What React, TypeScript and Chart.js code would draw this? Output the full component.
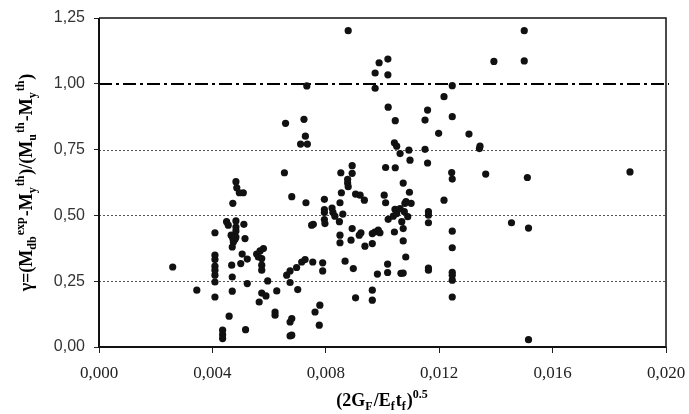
import React, { useEffect, useRef } from "react";
import { Chart, registerables } from "chart.js";

Chart.register(...registerables);

const xValues: number[] = [
  0.0026, 0.00345, 0.00409, 0.00409, 0.00409, 0.00409, 0.00409, 0.00409, 0.00409, 0.00409,
  0.00436, 0.00436, 0.00436, 0.0045, 0.00456, 0.00459, 0.00466, 0.00472, 0.0048, 0.00474,
  0.0047, 0.00472, 0.00468, 0.0047, 0.0047, 0.00483, 0.00486, 0.00495, 0.00509, 0.00483,
  0.00483, 0.00483, 0.00483, 0.00511, 0.00515, 0.005, 0.00505, 0.00523, 0.00523, 0.00517,
  0.00556, 0.00568, 0.0058, 0.00562, 0.00574, 0.00574, 0.00574, 0.00574, 0.00589, 0.00565,
  0.00595, 0.00621, 0.00621, 0.00627, 0.00654, 0.00658, 0.00662, 0.00674, 0.00674, 0.0068,
  0.0068, 0.00674, 0.00674, 0.0068, 0.00697, 0.00701, 0.00715, 0.00727, 0.0073, 0.00733,
  0.00723, 0.00728, 0.00711, 0.00735, 0.0075, 0.00756, 0.00754, 0.00762, 0.00779, 0.00777,
  0.00789, 0.00789, 0.00795, 0.00795, 0.00795, 0.00795, 0.00797, 0.00822, 0.00825, 0.00832,
  0.0085, 0.00855, 0.0086, 0.00848, 0.0085, 0.0085, 0.00853, 0.00893, 0.00893, 0.00877,
  0.00877, 0.00879, 0.00879, 0.00868, 0.00897, 0.00893, 0.00889, 0.00905, 0.00921, 0.00936,
  0.00924, 0.00918, 0.00938, 0.00905, 0.00964, 0.00973, 0.00985, 0.00991, 0.00964, 0.00964,
  0.00964, 0.00982, 0.00974, 0.00974, 0.00988, 0.01019, 0.01019, 0.0102, 0.01045, 0.01006,
  0.01011, 0.01011, 0.01045, 0.01018, 0.01018, 0.0102, 0.01038, 0.01044, 0.0105, 0.01062,
  0.01079, 0.01101, 0.01077, 0.01089, 0.01068, 0.01042, 0.01073, 0.01073, 0.01082, 0.01065,
  0.01073, 0.01042, 0.0105, 0.01062, 0.01093, 0.01097, 0.01073, 0.01095, 0.01083, 0.0115,
  0.01159, 0.0115, 0.01159, 0.01162, 0.01162, 0.01162, 0.01162, 0.01162, 0.01198, 0.01217,
  0.01217, 0.01246, 0.01246, 0.01244, 0.01246, 0.01246, 0.01246, 0.01246, 0.01246, 0.01246,
  0.01246, 0.01305, 0.01344, 0.01342, 0.01364, 0.01393, 0.01455, 0.015, 0.015, 0.01511,
  0.01515, 0.01515, 0.01873,
];

const yValues: number[] = [
  0.304, 0.216, 0.434, 0.349, 0.332, 0.307, 0.292, 0.273, 0.247, 0.19,
  0.064, 0.047, 0.032, 0.476, 0.463, 0.117, 0.425, 0.412, 0.409, 0.399,
  0.38, 0.546, 0.311, 0.266, 0.212, 0.628, 0.605, 0.586, 0.586, 0.479,
  0.456, 0.418, 0.441, 0.466, 0.412, 0.317, 0.353, 0.334, 0.241, 0.066,
  0.353, 0.365, 0.374, 0.342, 0.336, 0.311, 0.292, 0.205, 0.194, 0.171,
  0.251, 0.133, 0.121, 0.213, 0.662, 0.85, 0.273, 0.289, 0.245, 0.571,
  0.108, 0.095, 0.042, 0.045, 0.302, 0.218, 0.323, 0.332, 0.548, 0.992,
  0.865, 0.801, 0.771, 0.771, 0.463, 0.466, 0.323, 0.133, 0.159, 0.083,
  0.32, 0.289, 0.561, 0.522, 0.511, 0.484, 0.469, 0.528, 0.512, 0.497,
  0.548, 0.586, 0.505, 0.476, 0.425, 0.396, 0.662, 0.689, 0.66, 0.637,
  0.623, 0.609, 1.202, 0.326, 0.298, 0.45, 0.406, 0.581, 0.577, 0.558,
  0.434, 0.425, 0.383, 0.187, 0.431, 0.437, 0.444, 0.434, 0.393, 0.216,
  0.178, 0.277, 0.983, 1.041, 1.08, 1.094, 1.034, 0.911, 0.86, 0.577,
  0.548, 0.682, 0.681, 0.315, 0.283, 0.485, 0.497, 0.523, 0.507, 0.526,
  0.546, 0.546, 0.514, 0.495, 0.476, 0.437, 0.45, 0.403, 0.342, 0.28,
  0.281, 0.776, 0.763, 0.735, 0.748, 0.71, 0.623, 0.588, 0.552, 0.862,
  0.9, 0.751, 0.699, 0.514, 0.501, 0.472, 0.3, 0.292, 0.812, 0.951,
  0.558, 0.993, 0.875, 0.663, 0.638, 0.44, 0.377, 0.284, 0.273, 0.254,
  0.19, 0.809, 0.763, 0.754, 0.657, 1.085, 0.472, 1.202, 1.087, 0.644,
  0.452, 0.028, 0.665,
];

const xTickStep = 0.004;
const yTickStep = 0.25;
const dottedGridValues = [0.25, 0.5, 0.75];
const referenceValue = 1.0;

type Seg = { t: string; m: "n" | "sub" | "sup" };

const yTitle: Seg[] = [
  { t: "γ=(M", m: "n" }, { t: "db", m: "sub" }, { t: "exp", m: "sup" },
  { t: "-M", m: "n" }, { t: "y", m: "sub" }, { t: "th", m: "sup" },
  { t: ")/(M", m: "n" }, { t: "u", m: "sub" }, { t: "th", m: "sup" },
  { t: "-M", m: "n" }, { t: "y", m: "sub" }, { t: "th", m: "sup" },
  { t: ")", m: "n" },
];

const xTitle: Seg[] = [
  { t: "(2G", m: "n" }, { t: "F", m: "sub" }, { t: "/E", m: "n" }, { t: "f", m: "sub" },
  { t: "t", m: "n" }, { t: "f", m: "sub" }, { t: ")", m: "n" }, { t: "0.5", m: "sup" },
];

function drawRich(ctx: CanvasRenderingContext2D, segs: Seg[], cx: number, cy: number, rot: number, size: number) {
  const big = `bold ${size}px "Liberation Serif", "Times New Roman", serif`;
  const small = `bold ${Math.round(size * 0.65)}px "Liberation Serif", "Times New Roman", serif`;
  ctx.save();
  ctx.translate(cx, cy);
  ctx.rotate(rot);
  let total = 0;
  for (const s of segs) {
    ctx.font = s.m === "n" ? big : small;
    total += ctx.measureText(s.t).width + (s.m === "n" ? 0 : 1);
  }
  let x = -total / 2;
  ctx.fillStyle = "#000";
  ctx.textBaseline = "alphabetic";
  ctx.textAlign = "left";
  for (const s of segs) {
    ctx.font = s.m === "n" ? big : small;
    const dy = s.m === "sub" ? size * 0.25 : s.m === "sup" ? -size * 0.42 : 0;
    ctx.fillText(s.t, x, dy + size * 0.33);
    x += ctx.measureText(s.t).width + (s.m === "n" ? 0 : 1);
  }
  ctx.restore();
}

const framePlugin = {
  id: "frame",
  beforeDatasetsDraw(chart: any) {
    const { ctx, chartArea: a, scales } = chart;
    const ys = scales.y;
    ctx.save();
    ctx.strokeStyle = "#555";
    ctx.lineWidth = 1;
    ctx.setLineDash([2, 2]);
    for (const v of dottedGridValues) {
      const py = Math.round(ys.getPixelForValue(v)) + 0.5;
      ctx.beginPath();
      ctx.moveTo(a.left, py);
      ctx.lineTo(a.right, py);
      ctx.stroke();
    }
    ctx.strokeStyle = "#000";
    ctx.lineWidth = 2;
    ctx.setLineDash([13, 4, 3, 4]);
    const pr = Math.round(ys.getPixelForValue(referenceValue));
    ctx.beginPath();
    ctx.moveTo(a.left, pr);
    ctx.lineTo(a.right + 3, pr);
    ctx.stroke();
    ctx.setLineDash([]);
    ctx.strokeStyle = "#111";
    ctx.lineWidth = 1.5;
    ctx.beginPath();
    ctx.moveTo(a.left, a.top);
    ctx.lineTo(a.right, a.top);
    ctx.lineTo(a.right, a.bottom);
    ctx.stroke();
    ctx.lineWidth = 2;
    ctx.beginPath();
    ctx.moveTo(a.left, a.top);
    ctx.lineTo(a.left, a.bottom);
    ctx.lineTo(a.right, a.bottom);
    ctx.stroke();
    ctx.restore();
  },
  afterDraw(chart: any) {
    const { ctx, chartArea: a } = chart;
    drawRich(ctx, yTitle, 26, (a.top + a.bottom) / 2, -Math.PI / 2, 18);
    drawRich(ctx, xTitle, (a.left + a.right) / 2, 400, 0, 18);
  },
};

export default function App() {
  const ref = useRef<HTMLCanvasElement | null>(null);
  useEffect(() => {
    if (!ref.current) return;
    const points = xValues.map((x, i) => ({ x, y: yValues[i] }));
    const chart = new Chart(ref.current, {
      type: "scatter",
      data: {
        datasets: [
          {
            data: points,
            backgroundColor: "#111",
            borderColor: "#111",
            borderWidth: 0,
            pointRadius: 3.6,
            pointHoverRadius: 3.6,
          },
        ],
      },
      options: {
        animation: false,
        responsive: false,
        maintainAspectRatio: false,
        events: [],
        layout: { padding: { top: 18, right: 23, left: 0, bottom: 0 } },
        plugins: { legend: { display: false }, tooltip: { enabled: false } },
        scales: {
          x: {
            type: "linear",
            min: 0,
            max: 0.02,
            ticks: {
              stepSize: xTickStep,
              callback: (v: any) => Number(v).toFixed(3).replace(".", ","),
              font: { family: '"Liberation Serif", "Times New Roman", serif', size: 17 },
              color: "#222",
              padding: 10,
              maxRotation: 0,
            },
            grid: { drawOnChartArea: false, drawTicks: true, tickLength: 6, color: "#222", tickColor: "#222" },
            border: { display: false },
            afterFit: (s: any) => { s.height = 67; s.paddingRight = 0; s.paddingLeft = 0; },
          },
          y: {
            type: "linear",
            min: 0,
            max: 1.25,
            ticks: {
              stepSize: yTickStep,
              callback: (v: any) => Number(v).toFixed(2).replace(".", ","),
              font: { family: '"Liberation Sans", Arial, sans-serif', size: 16 },
              color: "#333",
              padding: 9,
            },
            grid: { drawOnChartArea: false, drawTicks: true, tickLength: 5, color: "#222", tickColor: "#222" },
            border: { display: false },
            afterFit: (s: any) => { s.width = 99; s.paddingTop = 0; s.paddingBottom = 0; },
          },
        },
      },
      plugins: [framePlugin],
    });
    return () => chart.destroy();
  }, []);
  return (
    <div style={{ position: "absolute", left: 0, top: 0, width: 689, height: 414, background: "#fff" }}>
      <canvas ref={ref} width={689} height={414} style={{ width: 689, height: 414 }} />
    </div>
  );
}
